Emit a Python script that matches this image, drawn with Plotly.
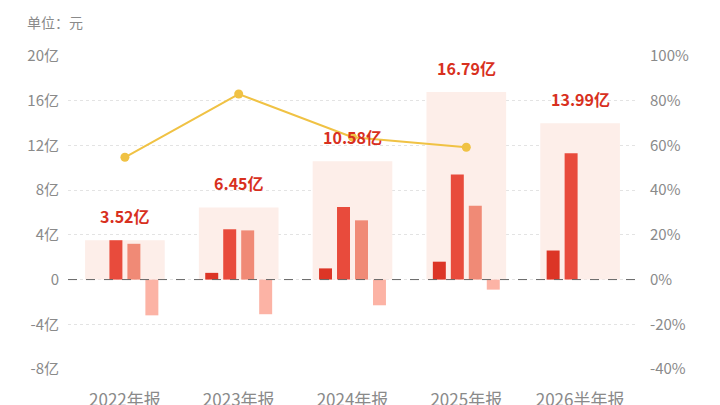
import plotly.graph_objects as go

categories = ["2022年报", "2023年报", "2024年报", "2025年报", "2026半年报"]
totals = [3.52, 6.45, 10.58, 16.79, 13.99]
series_a = [None, 0.6, 1.0, 1.6, 2.6]
series_b = [3.52, 4.5, 6.5, 9.4, 11.3]
series_c = [3.2, 4.4, 5.3, 6.6, None]
series_d = [-3.2, -3.1, -2.3, -0.9, None]
ratio_pct = [54.7, 83.0, 63.7, 59.2, None]
total_labels = ["3.52亿", "6.45亿", "10.58亿", "16.79亿", "13.99亿"]

left_ticks = [-8, -4, 0, 4, 8, 12, 16, 20]
left_labels = ["-8亿", "-4亿", "0", "4亿", "8亿", "12亿", "16亿", "20亿"]
right_ticks = [-40, -20, 0, 20, 40, 60, 80, 100]
right_labels = ["-40%", "-20%", "0%", "20%", "40%", "60%", "80%", "100%"]

FONT = "Noto Sans CJK SC"
GRAY = "#8a8a8a"

fig = go.Figure()

# background total bars
fig.add_trace(go.Bar(
    x=categories, y=totals, width=0.70, offset=-0.35,
    marker=dict(color="#fdeee9", line=dict(width=0)),
    hoverinfo="skip", showlegend=False,
))

bar_w = 0.114
step = 0.158
start = -0.294
colors = ["#dc3526", "#e84b3c", "#f08a76", "#fcb3a5"]
for i, vals in enumerate([series_a, series_b, series_c, series_d]):
    fig.add_trace(go.Bar(
        x=categories, y=vals, width=bar_w, offset=start + i * step,
        marker=dict(color=colors[i], line=dict(width=0)),
        showlegend=False,
    ))

fig.add_trace(go.Scatter(
    x=categories, y=ratio_pct, yaxis="y2", mode="lines+markers",
    line=dict(color="#f0c244", width=2),
    marker=dict(color="#f0c244", size=9),
    showlegend=False,
))

for c, t, lab in zip(categories, totals, total_labels):
    fig.add_annotation(
        x=c, y=t, text="<b>" + lab + "</b>", showarrow=False,
        yanchor="bottom", yshift=10,
        font=dict(family=FONT, size=16, color="#d8301e"),
    )

fig.add_annotation(
    xref="paper", yref="paper", x=-0.0756, y=1.109, text="单位：元",
    showarrow=False, xanchor="left", yanchor="middle",
    font=dict(family=FONT, size=14, color=GRAY),
)

fig.add_shape(
    type="line", xref="paper", yref="y", x0=0, x1=1, y0=0, y1=0,
    line=dict(color="#666666", width=1, dash="dash"),
)

fig.update_layout(
    width=720, height=405,
    margin=dict(l=68, r=83, t=56, b=36),
    barmode="overlay",
    plot_bgcolor="white", paper_bgcolor="white",
    font=dict(family=FONT, color=GRAY),
    xaxis=dict(
        type="category", showgrid=False, zeroline=False, showline=False,
        ticks="", tickfont=dict(size=17, color=GRAY), ticklabelstandoff=19,
        automargin=False,
    ),
    yaxis=dict(
        range=[-8, 20], tickvals=left_ticks, ticktext=left_labels,
        showgrid=True, gridcolor="#e3e3e3", griddash="dot", gridwidth=1,
        zeroline=False, showline=False, ticks="", automargin=False,
        tickfont=dict(size=15, color=GRAY), ticklabelstandoff=8,
    ),
    yaxis2=dict(
        range=[-40, 100], tickvals=right_ticks, ticktext=right_labels,
        overlaying="y", side="right", showgrid=False, zeroline=False,
        showline=False, ticks="", tickfont=dict(size=15, color=GRAY),
        ticklabelstandoff=12, automargin=False,
    ),
)

# page body has a default 8px margin; remove it so the 720x405 figure fills the window
fig.write_html(
    "out.html",
    config={"displayModeBar": False},
    post_script="document.body.style.margin='0';",
)
